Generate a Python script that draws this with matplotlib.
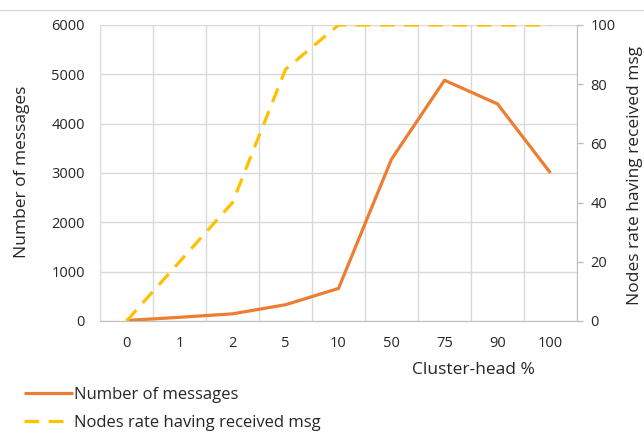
import matplotlib
matplotlib.use("Agg")
import matplotlib.pyplot as plt
from matplotlib.lines import Line2D
import numpy as np

plt.rcParams['font.family'] = ['Open Sans', 'DejaVu Sans']

# data
cluster_head = ['0', '1', '2', '5', '10', '50', '75', '90', '100']
messages = [10, 75, 145, 330, 660, 3280, 4880, 4400, 3000]
nodes_rate = [0, 20, 40, 85, 100, 100, 100, 100, 100]

orange = '#ED7D31'
yellow = '#FFC000'
grid_c = '#d9d9d9'
axis_c = '#bfbfbf'
text_c = '#262626'

fig = plt.figure(figsize=(6.44, 4.37), dpi=100)
ax = fig.add_axes([100 / 644, 1 - 321 / 437, 477 / 644, 296 / 437])
ax2 = ax.twinx()

x = np.arange(len(cluster_head))
l1, = ax.plot(x, messages, color=orange, lw=2.3, solid_capstyle='butt',
              label='Number of messages', zorder=3)
l2, = ax2.plot(x, nodes_rate, color=yellow, lw=2.3, ls=(0, (4.6, 3.0)),
               dash_capstyle='butt', label='Nodes rate having received msg', zorder=3)

ax.set_xlim(-0.5, len(cluster_head) - 0.5)
ax.set_ylim(0, 6000)
ax2.set_ylim(0, 100)

ax.set_xticks(x)
ax.set_xticklabels(cluster_head)
ax.set_xticks(np.arange(len(cluster_head) + 1) - 0.5, minor=True)
ax.set_yticks(np.arange(0, 6001, 1000))
ax2.set_yticks(np.arange(0, 101, 20))

ax.grid(True, which='minor', axis='x', color=grid_c, lw=1)
ax.grid(True, which='major', axis='y', color=grid_c, lw=1)
ax.set_axisbelow(True)

for a in (ax, ax2):
    for s in a.spines.values():
        s.set_visible(False)
ax.spines['bottom'].set_visible(True)
ax.spines['bottom'].set_color(axis_c)
ax2.spines['right'].set_visible(True)
ax2.spines['right'].set_color(axis_c)

ax.tick_params(axis='x', which='both', length=0, pad=11, labelsize=10.5, colors=text_c)
ax.tick_params(axis='y', length=0, pad=11, labelsize=10.5, colors=text_c)
ax2.tick_params(axis='y', length=4.5, width=1, color=axis_c, pad=5, labelsize=10.5,
                labelcolor=text_c)

ax.set_xlabel('Cluster-head %', fontsize=12.5, color=text_c)
ax.xaxis.set_label_coords((473 - 100) / 477, -0.14)
ax.set_ylabel('Number of messages', fontsize=12.5, color=text_c)
ax.yaxis.set_label_coords(-0.147, 0.503)
ax2.set_ylabel('Nodes rate having received msg', fontsize=12.5, color=text_c)
ax2.yaxis.set_label_coords((627 - 100) / 477, 0.493)

fig.legend([l1, l2], [l1.get_label(), l2.get_label()], loc='upper left',
           bbox_to_anchor=(17 / 644 - 0.012, 1 - 372 / 437), frameon=False,
           fontsize=12, handlelength=2.9, handletextpad=0.1, labelspacing=0.7,
           labelcolor=text_c)

fig.add_artist(Line2D([0, 1], [1 - 10 / 437, 1 - 10 / 437], color=grid_c, lw=1))

fig.savefig('out.png', dpi=100)
